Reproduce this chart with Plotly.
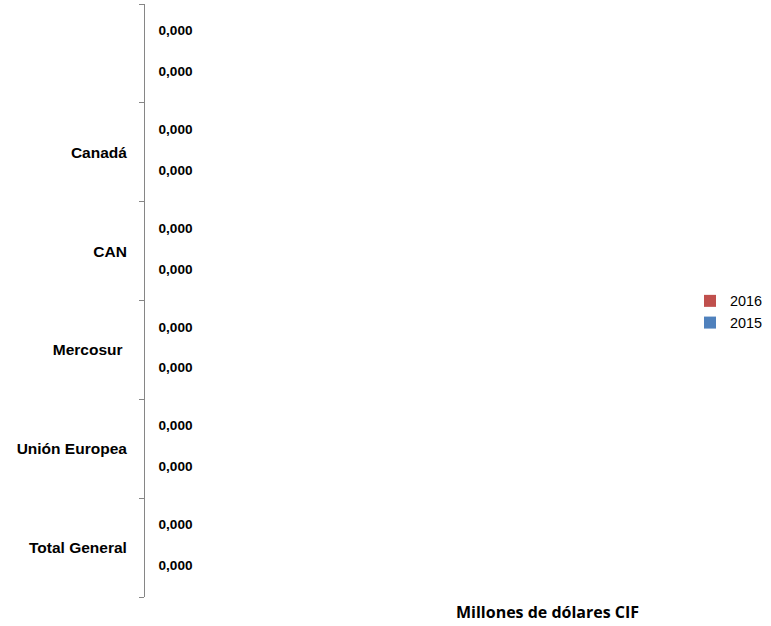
import plotly.graph_objects as go

categories = ["Total General", "Unión Europea", "Mercosur\u00a0", "CAN", "Canadá", " "]
values_2016 = [0, 0, 0, 0, 0, 0]
values_2015 = [0, 0, 0, 0, 0, 0]
labels_2016 = ["0,000"] * 6
labels_2015 = ["0,000"] * 6

SANS = "Liberation Sans, Arial, sans-serif"

fig = go.Figure()
fig.add_trace(go.Bar(
    name="2016", y=categories, x=values_2016, orientation="h",
    marker=dict(color="#C0504D", line=dict(width=0)),
    text=labels_2016, textposition="outside",
    textfont=dict(family=SANS, size=13.6, color="#000000", weight="bold"),
    width=0.2, offset=0.131, cliponaxis=False, hoverinfo="skip",
))
fig.add_trace(go.Bar(
    name="2015", y=categories, x=values_2015, orientation="h",
    marker=dict(color="#4F81BD", line=dict(width=0)),
    text=labels_2015, textposition="outside",
    textfont=dict(family=SANS, size=13.6, color="#000000", weight="bold"),
    width=0.2, offset=-0.282, cliponaxis=False, hoverinfo="skip",
))

fig.update_layout(
    template="none",
    width=771, height=626,
    margin=dict(l=145, r=90, t=4, b=29, autoexpand=False),
    paper_bgcolor="white", plot_bgcolor="white",
    barmode="group",
    showlegend=True,
    legend=dict(
        x=(690 - 145) / 536, y=(597 - 312) / 593, xanchor="left", yanchor="middle",
        font=dict(family=SANS, size=14.4, color="#000000"),
        bgcolor="rgba(0,0,0,0)", borderwidth=0, tracegroupgap=0,
    ),
    xaxis=dict(range=[-0.02, 1], visible=False, fixedrange=True),
    yaxis=dict(
        type="category", categoryorder="array", categoryarray=categories,
        automargin=False, fixedrange=True,
        showline=True, linecolor="#868686", linewidth=1,
        ticks="outside", tickson="boundaries", ticklen=5, tickcolor="#868686", tickwidth=1,
        showgrid=False, zeroline=False,
        tickfont=dict(family=SANS, size=15.5, color="#000000", weight="bold"),
        ticklabelstandoff=14,
    ),
    annotations=[dict(
        text="Millones de dólares CIF", xref="paper", yref="paper",
        x=(547 - 145) / 536, y=-(612 - 597) / 593, xanchor="center", yanchor="middle",
        showarrow=False,
        font=dict(family="Open Sans, Liberation Sans, sans-serif", size=16, color="#000000", weight="bold"),
    )],
)

fig.write_html("out.html", config={"displayModeBar": False},
               post_script="document.body.style.margin='0';")
